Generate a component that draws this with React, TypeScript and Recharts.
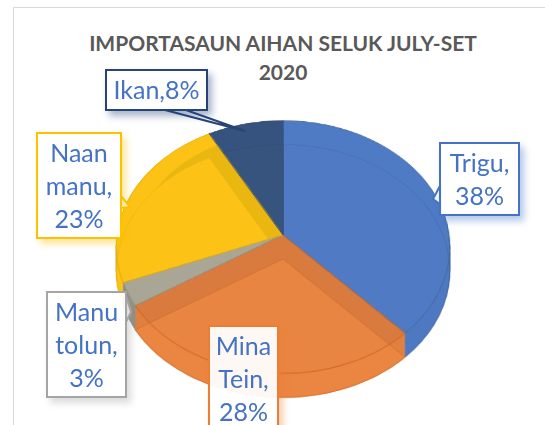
import { PieChart, Pie } from "recharts";
import type { CSSProperties } from "react";

const categories = ["Trigu", "Mina Tein", "Manu tolun", "Naan manu", "Ikan"];
const values = [38, 28, 3, 23, 8];
const topColors = ["#4f7ac4", "#d97a3e", "#a9a696", "#fcc216", "#36537f"];
const floorColors = ["#4f7ac4", "#eb8541", "#a9a696", "#fcc216", "#36537f"];
const bandColors = ["#4f7ac4", "#d97a3e", "#a9a696", "#eab711", "#36537f"];
const wallColors = ["#3d62a3", "#e0803f", "#8f8d80", "#d9a810", "#2b4468"];
const edgeColors = ["#42699f", "#c9651f", "#93917f", "#e0ae10", "#2d4870"];

const labelLines = [["Trigu,", "38%"], ["Mina", "Tein,", "28%"], ["Manu", "tolun,", "3%"], ["Naan", "manu,", "23%"], ["Ikan,8%"]];
const borderColors = ["#4472c4", "#ed7d31", "#a5a5a5", "#ffc000", "#264478"];

const SIZE = 400;
const RADIUS = 166;
const APEX_X = 283;
const APEX_Y = 235;
const DEPTH = 24;

const wallSteps = [24, 23, 22, 21, 20, 19, 18, 17, 16, 15, 14, 13, 12, 11, 10, 9, 8, 7, 6, 5, 4, 3, 2, 1];

const boxes: CSSProperties[] = [
  { left: 439, top: 142, width: 81, height: 74 },
  { left: 208, top: 325, width: 71, height: 110 },
  { left: 46, top: 291, width: 81, height: 107 },
  { left: 36, top: 132, width: 86, height: 107 },
  { left: 105, top: 69, width: 103, height: 42 },
];

function Disc({ colors, lines, shift, show, width = 0, radius = RADIUS, opacity = 1 }: {
  colors: string[];
  lines: string[];
  shift: number;
  show: number[];
  width?: number;
  radius?: number;
  opacity?: number;
}) {
  const table = categories.map((name, i) => ({
    name,
    value: values[i],
    fill: show.includes(i) ? colors[i] : "none",
    stroke: show.includes(i) ? lines[i] : "none",
  }));
  return (
    <div
      style={{
        position: "absolute",
        left: APEX_X - SIZE / 2,
        top: APEX_Y - SIZE / 2 + shift,
        width: SIZE,
        height: SIZE,
        opacity,
        transformOrigin: "center",
        transform: "perspective(1146px) rotateX(41deg)",
      }}
    >
      <PieChart width={SIZE} height={SIZE} margin={{ top: 0, right: 0, bottom: 0, left: 0 }}>
        <Pie
          data={table}
          dataKey="value"
          nameKey="name"
          cx="50%"
          cy="50%"
          innerRadius={0}
          outerRadius={radius}
          startAngle={90}
          endAngle={-270}
          strokeWidth={width}
          label={false}
          labelLine={false}
          isAnimationActive={false}
        />
      </PieChart>
    </div>
  );
}

const all = [0, 1, 2, 3, 4];
const none = categories.map(() => "none");

export default function App() {
  return (
    <div style={{ position: "absolute", left: 0, top: 0, width: 545, height: 425, overflow: "hidden", background: "#fff", fontFamily: "Lato, sans-serif" }}>
      <div style={{ position: "absolute", left: 13, top: 7, width: 540, height: 430, border: "1.5px solid #d9d9d9", boxSizing: "border-box" }} />
      <div style={{ position: "absolute", left: 70, top: 28, width: 426, textAlign: "center", fontWeight: 700, fontSize: 21, lineHeight: "29px", color: "#595959" }}>
        IMPORTASAUN AIHAN SELUK JULY-SET<br />2020
      </div>

      {wallSteps.map((d) => (
        <Disc key={d} colors={wallColors} lines={wallColors} shift={d} show={all} />
      ))}
      <Disc colors={topColors} lines={topColors} shift={0} show={all} />
      {/* the pie is see-through in the reference, so the floor shows behind each top */}
      <Disc colors={floorColors} lines={edgeColors} shift={DEPTH} show={[0, 4]} width={0.7} opacity={0.9} />
      <Disc colors={topColors} lines={topColors} shift={0} show={[3]} />
      <Disc colors={bandColors} lines={bandColors} shift={0} show={[3]} radius={146} />
      <Disc colors={floorColors} lines={edgeColors} shift={DEPTH} show={[3]} width={0.5} />
      {wallSteps.map((d) => (
        <Disc key={d} colors={wallColors} lines={wallColors} shift={d} show={[1, 2]} />
      ))}
      <Disc colors={topColors} lines={topColors} shift={0} show={[1, 2]} />
      <Disc colors={floorColors} lines={edgeColors} shift={DEPTH} show={[1]} width={0.7} opacity={0.92} />
      <Disc colors={none} lines={edgeColors} shift={0} show={all} width={1} />

      <svg width={545} height={425} style={{ position: "absolute", left: 0, top: 0 }}>
        <polygon points="165,110 186,110 245,131" fill="#f4f6fb" stroke={borderColors[4]} strokeWidth={2} />
        <polygon points="121,196 130,207 121,208" fill="#fbfaf4" stroke={borderColors[3]} strokeWidth={2} />
        <polygon points="441,184 433,199 441,205" fill="#f4f6fb" stroke={borderColors[0]} strokeWidth={2} />
        <polygon points="126,296 131,312 126,322" fill="#fafafa" stroke={borderColors[2]} strokeWidth={2} />
      </svg>
      {boxes.map((box, i) => (
        <div
          key={categories[i]}
          style={{
            ...box,
            position: "absolute",
            boxSizing: "border-box",
            border: `2.5px solid ${borderColors[i]}`,
            background: "rgba(255,255,255,0.94)",
            boxShadow: `4px 5px 7px ${borderColors[i]}66`,
            color: "#4472c4",
            fontSize: 25,
            lineHeight: "33px",
            textAlign: "center",
            paddingTop: 2,
            whiteSpace: "nowrap",
          }}
        >
          {labelLines[i].map((line) => (
            <div key={line}>{line}</div>
          ))}
        </div>
      ))}
    </div>
  );
}
